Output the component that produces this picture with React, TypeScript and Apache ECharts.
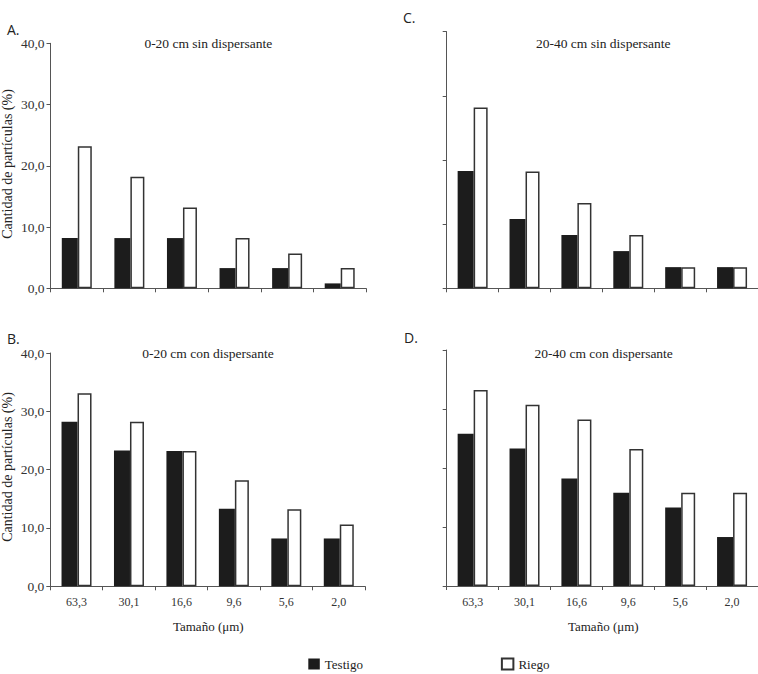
import React, { useEffect, useRef } from "react";
import * as echarts from "echarts";

const categories = ["63,3", "30,1", "16,6", "9,6", "5,6", "2,0"];
const testigoA = [8.2, 8.2, 8.2, 3.3, 3.3, 0.8];
const riegoA = [23.2, 18.2, 13.2, 8.2, 5.7, 3.3];
const testigoB = [28.2, 23.3, 23.2, 13.3, 8.2, 8.2];
const riegoB = [33.1, 28.2, 23.2, 18.2, 13.2, 10.6];
const testigoC = [18.3, 10.8, 8.3, 5.8, 3.3, 3.3];
const riegoC = [28.2, 18.2, 13.3, 8.3, 3.3, 3.3];
const testigoD = [25.8, 23.3, 18.2, 15.8, 13.3, 8.3];
const riegoD = [33.2, 30.7, 28.2, 23.2, 15.8, 15.8];
const yTicks = { min: 0, max: 40, interval: 10 };
const panelTitles = [
  "0-20 cm sin dispersante",
  "0-20 cm con dispersante",
  "20-40 cm sin dispersante",
  "20-40 cm con dispersante",
];
const panelLetters = ["A.", "B.", "C.", "D."];
const seriesNames = ["Testigo", "Riego"];
const yName = "Cantidad de partículas (%)";
const xName = "Tamaño (μm)";

const SERIF = "'Liberation Serif', serif";
const SANS = "'Open Sans', sans-serif";

export default function App() {
  const ref = useRef<HTMLDivElement>(null);
  useEffect(() => {
    if (!ref.current) return;
    const chart = echarts.init(ref.current, undefined, { renderer: "svg" });
    const grids = [
      { left: 50.5, top: 43.3, width: 315.5, height: 245 },
      { left: 50.3, top: 353, width: 314.7, height: 233.3 },
      { left: 446.7, top: 31.7, width: 313.5, height: 256.6 },
      { left: 446.7, top: 350, width: 314, height: 236 },
    ];
    const data = [
      [testigoA, riegoA],
      [testigoB, riegoB],
      [testigoC, riegoC],
      [testigoD, riegoD],
    ];
    const axisLine = { lineStyle: { color: "#555", width: 1 } };
    const xAxis = grids.map((_, i) => ({
      type: "category",
      gridIndex: i,
      data: categories,
      boundaryGap: true,
      axisLine,
      axisTick: { show: true, length: 4, inside: false, lineStyle: { color: "#555" } },
      axisLabel: {
        show: i === 1 || i === 3,
        fontFamily: SERIF,
        fontSize: 12,
        color: "#333",
        margin: 10,
      },
      splitLine: { show: false },
    }));
    const yAxis = grids.map((_, i) => ({
      type: "value",
      gridIndex: i,
      ...yTicks,
      axisLine: { show: true, ...axisLine },
      axisTick: { show: true, length: 4, inside: false, lineStyle: { color: "#555" } },
      axisLabel: {
        show: i < 2,
        fontFamily: SERIF,
        fontSize: 13.5,
        color: "#333",
        margin: 6,
        formatter: (v: number) => v.toFixed(1).replace(".", ","),
      },
      splitLine: { show: false },
    }));
    const series: any[] = [];
    data.forEach((pair, i) => {
      series.push({
        type: "bar",
        name: seriesNames[0],
        xAxisIndex: i,
        yAxisIndex: i,
        data: pair[0],
        barWidth: 16,
        barGap: "0%",
        itemStyle: { color: "#1c1c1c", borderColor: "#1c1c1c", borderWidth: 0 },
      });
      series.push({
        type: "bar",
        name: seriesNames[1],
        xAxisIndex: i,
        yAxisIndex: i,
        data: pair[1],
        barWidth: 14,
        barGap: "0%",
        itemStyle: { color: "#ffffff", borderColor: "#333", borderWidth: 1.5 },
      });
    });
    const txt = (text: string, x: number, y: number, font: string, size: number, extra: any = {}) => ({
      type: "text",
      x,
      y,
      ...extra,
      style: {
        text,
        fill: "#222",
        fontFamily: font,
        fontSize: size,
        align: extra.align || "center",
        verticalAlign: "middle",
      },
    });
    const graphic = [
      txt(panelLetters[0], 7, 29, SANS, 14, { align: "left" }),
      txt(panelLetters[1], 7, 338, SANS, 14, { align: "left" }),
      txt(panelLetters[2], 403, 17, SANS, 14, { align: "left" }),
      txt(panelLetters[3], 404, 337, SANS, 14, { align: "left" }),
      txt(panelTitles[0], 208.3, 43.5, SERIF, 13.5),
      txt(panelTitles[1], 208, 353.5, SERIF, 13.5),
      txt(panelTitles[2], 603.3, 43.5, SERIF, 13.5),
      txt(panelTitles[3], 603.7, 353.5, SERIF, 13.5),
      txt(yName, 7, 164, SERIF, 14, { rotation: Math.PI / 2 }),
      txt(yName, 7, 467, SERIF, 14, { rotation: Math.PI / 2 }),
      txt(xName, 208.3, 626, SERIF, 13),
      txt(xName, 603.3, 626, SERIF, 13),
    ];
    chart.setOption({
      animation: false,
      backgroundColor: "#ffffff",
      grid: grids.map((g) => ({ ...g, containLabel: false })),
      xAxis,
      yAxis,
      series,
      legend: {
        data: seriesNames,
        left: 303.3,
        top: 652.5,
        icon: "rect",
        itemWidth: 11.5,
        itemHeight: 11,
        itemGap: 138,
        textStyle: { fontFamily: SERIF, fontSize: 13, color: "#222" },
      },
      graphic,
    });
    return () => chart.dispose();
  }, []);
  return (
    <div
      ref={ref}
      style={{ position: "absolute", left: 0, top: 0, width: 758, height: 674 }}
    />
  );
}
